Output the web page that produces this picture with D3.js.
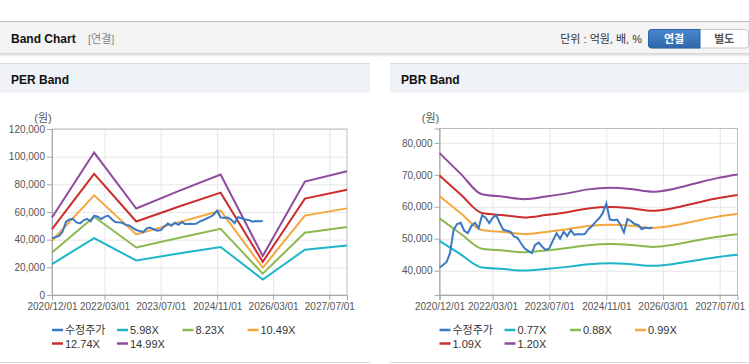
<!DOCTYPE html>
<html>
<head>
<meta charset="utf-8">
<script src="https://cdn.jsdelivr.net/npm/d3@7"></script>
<style>
  body { margin: 0; background: #fff; }
  svg text { font-family: "Liberation Sans", Arial, "Noto Sans CJK KR", sans-serif; }
</style>
</head>
<body>
<div id="chart"></div>
<script>
// tick labels shared by both panels
const xTickLabels = ['2020/12/01', '2022/03/01', '2023/07/01', '2024/11/01', '2026/03/01', '2027/07/01'];

// PER band (yearly anchor points)
const perDates = ['2020-12-01', '2021-12-01', '2022-12-01', '2023-12-01', '2024-12-01', '2025-12-01', '2026-12-01', '2027-12-01'];
const per598 = [22370, 41080, 24940, 29940, 34740, 11240, 32710, 35700];
const per823 = [30780, 56540, 34320, 41210, 47820, 15470, 45020, 49130];
const per1049 = [39230, 72070, 43740, 52520, 60950, 19720, 57380, 62630];
const per1274 = [47650, 87520, 53130, 63790, 74020, 23950, 69690, 76060];
const per1499 = [56060, 102980, 62510, 75060, 87090, 28180, 82000, 89490];

// PBR band (half-yearly points)
const pbrDates = ['2020-12-01', '2021-06-01', '2021-12-01', '2022-06-01', '2022-12-01', '2023-06-01', '2023-12-01', '2024-06-01',
    '2024-12-01', '2025-06-01', '2025-12-01', '2026-06-01', '2026-12-01', '2027-06-01', '2027-12-01'];
const pbr077 = [49310, 45110, 41000, 40530, 40040, 40560, 41200, 42000, 42320, 42060, 41520, 42100, 43180, 44210, 44980];
const pbr088 = [56360, 51550, 46860, 46310, 45760, 46350, 47080, 48000, 48360, 48070, 47450, 48110, 49350, 50530, 51410];
const pbr099 = [63400, 58000, 52720, 52100, 51480, 52140, 52970, 54000, 54410, 54080, 53380, 54120, 55520, 56850, 57840];
const pbr109 = [69800, 63850, 58040, 57370, 56680, 57410, 58320, 59450, 59910, 59540, 58770, 59590, 61130, 62590, 63680];
const pbr120 = [76850, 70300, 63900, 63160, 62400, 63200, 64200, 65450, 65950, 65550, 64700, 65600, 67300, 68900, 70100];

// adjusted price (수정주가), monthly from 2020/12
const priceStart = '2020-12-01';
const price = [41000, 41800, 42800, 45500, 52800, 54600, 55000, 52500, 51800, 54000, 55000, 53300,
    57300, 56600, 54900, 56500, 57400, 55000, 52800, 52500, 52200, 50700, 50300, 48500,
    47000, 46200, 45500, 48100, 48800, 47500, 46500, 47000, 49500, 51700, 50000, 52200,
    50800, 52700, 51200, 51500, 51300, 51500, 53000, 54000, 55300, 56400, 58000, 61000,
    56000, 55800, 56000, 54500, 52000, 56200, 55500, 54600, 54300, 53000, 53500, 53300, 53500];

const colors = ['#3b78c4', '#1cb5c8', '#8cb850', '#f5a63c', '#cc2d2d', '#8e4b9e'];

const parse = d3.timeParse('%Y-%m-%d');
const parseTick = d3.timeParse('%Y/%m/%d');
const fmtTick = d3.timeFormat('%Y/%m/%d');

const W = 749, H = 364;
const svg = d3.select('#chart').append('svg').attr('width', W).attr('height', H);

// ---- page header ----
const defs = svg.append('defs');
const sh = defs.append('linearGradient').attr('id', 'shadow').attr('x1', 0).attr('x2', 0).attr('y1', 0).attr('y2', 1);
sh.append('stop').attr('offset', 0).attr('stop-color', '#cfcfcf');
sh.append('stop').attr('offset', 1).attr('stop-color', '#ffffff');
const bl = defs.append('linearGradient').attr('id', 'btn').attr('x1', 0).attr('x2', 0).attr('y1', 0).attr('y2', 1);
bl.append('stop').attr('offset', 0).attr('stop-color', '#4a87cc');
bl.append('stop').attr('offset', 1).attr('stop-color', '#2d68ad');

svg.append('rect').attr('x', 0).attr('y', 21).attr('width', W).attr('height', 32).attr('fill', '#f4f4f4');
svg.append('line').attr('x1', 0).attr('x2', W).attr('y1', 21.5).attr('y2', 21.5).attr('stroke', '#bdbdbd');
svg.append('rect').attr('x', 0).attr('y', 53).attr('width', W).attr('height', 4).attr('fill', 'url(#shadow)');

svg.append('text').attr('x', 11).attr('y', 43).attr('font-size', 12).attr('font-weight', 'bold')
    .attr('fill', '#111').text('Band Chart');
svg.append('text').attr('x', 88).attr('y', 43).attr('font-size', 11).attr('fill', '#888').text('[연결]');
svg.append('text').attr('x', 642).attr('y', 43).attr('font-size', 11).attr('fill', '#333')
    .attr('text-anchor', 'end').text('단위 : 억원, 배, %');

svg.append('rect').attr('x', 648.5).attr('y', 29.5).attr('width', 100).attr('height', 18.5).attr('rx', 3)
    .attr('fill', '#fff').attr('stroke', '#c6c6c6');
svg.append('path').attr('d', 'M700,29.5 H651.5 Q648.5,29.5 648.5,32.5 V45 Q648.5,48 651.5,48 H700 Z')
    .attr('fill', 'url(#btn)').attr('stroke', '#2a62a3');
svg.append('text').attr('x', 674).attr('y', 43).attr('font-size', 11).attr('font-weight', 'bold')
    .attr('fill', '#fff').attr('text-anchor', 'middle').text('연결');
svg.append('text').attr('x', 724).attr('y', 43).attr('font-size', 11).attr('font-weight', 'bold')
    .attr('fill', '#555').attr('text-anchor', 'middle').text('별도');

// ---- one band panel ----
function drawPanel(cfg) {
    const g = svg.append('g');
    // panel box
    g.append('line').attr('x1', cfg.px).attr('x2', cfg.px + cfg.pw).attr('y1', 63.5).attr('y2', 63.5).attr('stroke', '#d9d9d9');
    g.append('rect').attr('x', cfg.px).attr('y', 64).attr('width', cfg.pw).attr('height', 28.5).attr('fill', '#eef2f7');
    g.append('line').attr('x1', cfg.px).attr('x2', cfg.px + cfg.pw).attr('y1', 362.5).attr('y2', 362.5).attr('stroke', '#d9d9d9');
    g.append('text').attr('x', cfg.px + 11).attr('y', 84).attr('font-size', 12).attr('font-weight', 'bold')
        .attr('fill', '#111').text(cfg.title);

    const x = d3.scaleTime().domain([parse('2020-12-01'), parse('2027-12-01')]).range([cfg.left, cfg.right]);
    const y = d3.scaleLinear().domain(cfg.yDomain).range([295, cfg.top]);
    const tickDates = xTickLabels.map(parseTick);
    const w = cfg.right - cfg.left, h = 295 - cfg.top;

    // grid
    g.append('g').attr('transform', `translate(0,295)`)
        .call(d3.axisBottom(x).tickValues(tickDates).tickSize(-h).tickFormat(''))
        .call(a => a.select('.domain').remove())
        .call(a => a.selectAll('line').attr('stroke', '#e6e6e6'));
    g.append('g').attr('transform', `translate(${cfg.left},0)`)
        .call(d3.axisLeft(y).tickValues(cfg.yTicks).tickSize(-w).tickFormat(''))
        .call(a => a.select('.domain').remove())
        .call(a => a.selectAll('line').attr('stroke', '#e6e6e6'));
    g.append('rect').attr('x', cfg.left).attr('y', cfg.top).attr('width', w).attr('height', h)
        .attr('fill', 'none').attr('stroke', '#bdbdbd');

    // axes
    const xa = g.append('g').attr('transform', `translate(0,295)`)
        .call(d3.axisBottom(x).tickValues(tickDates).tickSize(5).tickPadding(3).tickFormat(fmtTick));
    const ya = g.append('g').attr('transform', `translate(${cfg.left},0)`)
        .call(d3.axisLeft(y).tickValues(cfg.yTicks).tickSize(5).tickPadding(2).tickFormat(d3.format(',')));
    [xa, ya].forEach(a => {
        a.select('.domain').attr('stroke', '#a8a8a8');
        a.selectAll('line').attr('stroke', '#a8a8a8');
        a.selectAll('text').attr('fill', '#555').attr('font-size', 10)
            .attr('font-family', '"Liberation Sans", Arial, sans-serif');
    });
    g.append('text').attr('x', cfg.left - 9).attr('y', 122).attr('font-size', 11).attr('fill', '#555')
        .attr('text-anchor', 'middle').text('(원)');

    // lines
    const line = d3.line().x(d => x(d.date)).y(d => y(d.value)).curve(cfg.curve);
    cfg.bands.forEach((vals, i) => {
        const pts = vals.map((v, j) => ({ date: parse(cfg.dates[j]), value: v }));
        g.append('path').datum(pts).attr('d', line).attr('fill', 'none')
            .attr('stroke', colors[i + 1]).attr('stroke-width', 2);
    });
    const pricePts = price.map((v, j) => ({ date: d3.timeMonth.offset(parse(priceStart), j), value: v }));
    g.append('path').datum(pricePts).attr('d', d3.line().x(d => x(d.date)).y(d => y(d.value)))
        .attr('fill', 'none').attr('stroke', colors[0]).attr('stroke-width', 2);

    // legend
    const names = ['수정주가'].concat(cfg.labels);
    const cols = [0, 65, 130.5, 195.5];
    names.forEach((n, i) => {
        const lx = cfg.left + cols[i % 4], ly = i < 4 ? 330 : 343.5;
        g.append('line').attr('x1', lx).attr('x2', lx + 11).attr('y1', ly).attr('y2', ly)
            .attr('stroke', colors[i]).attr('stroke-width', 2.5);
        g.append('text').attr('x', lx + 13).attr('y', ly + 4).attr('font-size', 11).attr('fill', '#333').text(n);
    });
}

drawPanel({
    title: 'PER Band', px: 0, pw: 370, left: 52, right: 347, top: 129,
    yDomain: [0, 120000], yTicks: [0, 20000, 40000, 60000, 80000, 100000, 120000],
    dates: perDates, bands: [per598, per823, per1049, per1274, per1499],
    labels: ['5.98X', '8.23X', '10.49X', '12.74X', '14.99X'], curve: d3.curveLinear
});
drawPanel({
    title: 'PBR Band', px: 390, pw: 359, left: 439.5, right: 737.5, top: 128.5,
    yDomain: [32400, 84500], yTicks: [40000, 50000, 60000, 70000, 80000],
    dates: pbrDates, bands: [pbr077, pbr088, pbr099, pbr109, pbr120],
    labels: ['0.77X', '0.88X', '0.99X', '1.09X', '1.20X'], curve: d3.curveMonotoneX
});
</script>
</body>
</html>
